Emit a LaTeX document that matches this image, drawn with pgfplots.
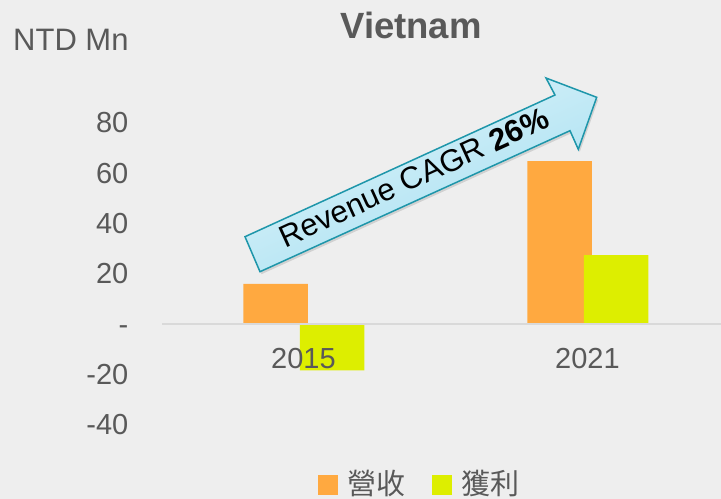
\documentclass[border=0pt]{standalone}
\usepackage{pgfplots}
\pgfplotsset{compat=1.18}
\usepackage{fontspec}
\setmainfont{Liberation Sans}
\newfontfamily\cjk{Noto Sans CJK TC}
\definecolor{bgc}{RGB}{238,238,238}
\definecolor{txt}{RGB}{89,89,89}
\definecolor{orng}{RGB}{255,169,64}
\definecolor{grn}{RGB}{221,238,0}
\definecolor{zl}{RGB}{217,217,217}
\definecolor{arrowborder}{RGB}{30,150,170}
\definecolor{arrowlight}{RGB}{226,245,251}
\definecolor{arrowdark}{RGB}{162,222,240}
\begin{document}
\begin{tikzpicture}
\path[use as bounding box, fill=bgc] (0,0) rectangle (721bp,-499bp);
\begin{axis}[
  at={(303.5bp,-324bp)}, anchor=origin,
  x=284bp, y=2.515bp,
  xmin=-0.4965, xmax=1.470, ymin=-50, ymax=90,
  axis x line*=middle, axis y line*=left,
  axis on top,
  x axis line style={draw=zl, line width=1.5bp},
  y axis line style={draw=none},
  major tick length=0pt,
  xtick={0,1}, xticklabels={2015,2021},
  ytick={-40,-20,0,20,40,60,80}, yticklabels={-40,-20,-,20,40,60,80},
  ticklabel style={font=\fontsize{29bp}{34bp}\selectfont, text=txt, inner sep=0pt},
  yticklabel style={xshift=-34bp, text height=20bp, text depth=0pt},
  xticklabel style={yshift=-24bp},
  clip=false,
  legend columns=2,
  legend image code/.code={\fill[#1] (0bp,-11bp) rectangle (20bp,9bp);},
  legend style={draw=none, fill=none, inner sep=0pt, outer sep=0pt,
    at={(0.2784,-0.0960)}, anchor=west,
    font=\fontsize{29bp}{34bp}\selectfont, text=txt,
    nodes={inner sep=0pt},
    /tikz/every odd column/.append style={column sep=10bp},
    /tikz/every even column/.append style={column sep=26bp}},
]
\addplot[ybar, bar width=64.5bp, bar shift=-28bp, fill=orng, draw=none] coordinates {(0,16.0) (1,64.8)};
\addlegendentry{\cjk 營收}
\addplot[ybar, bar width=64.5bp, bar shift=28.5bp, fill=grn, draw=none] coordinates {(0,-18.4) (1,27.4)};
\addlegendentry{\cjk 獲利}
\end{axis}
\node[anchor=base, font=\fontsize{36.5bp}{40bp}\selectfont\bfseries, text=txt] at (411bp,-38bp) {Vietnam};
\node[anchor=base west, inner sep=0pt, font=\fontsize{31bp}{35bp}\selectfont, text=txt] at (13bp,-50bp) {NTD Mn};
\def\arrowpath{(245bp,-236.7bp) -- (555bp,-95bp) -- (546bp,-78bp) -- (596.7bp,-97.3bp) -- (578.3bp,-149.3bp) -- (570bp,-130.7bp) -- (260bp,-271.7bp) -- cycle}
\begin{scope}[shift={(1.5bp,-2.5bp)}]
\fill[black, opacity=0.12] \arrowpath;
\end{scope}
\shade[top color=arrowlight, bottom color=arrowdark, shading angle=24.6] \arrowpath;
\draw[arrowborder, line width=1.5bp, line join=miter] \arrowpath;
\node[rotate=24.6, inner sep=0pt, font=\fontsize{31bp}{35bp}\selectfont] at (414bp,-177.5bp) {Revenue CAGR \textbf{26\%}};
\end{tikzpicture}
\end{document}
